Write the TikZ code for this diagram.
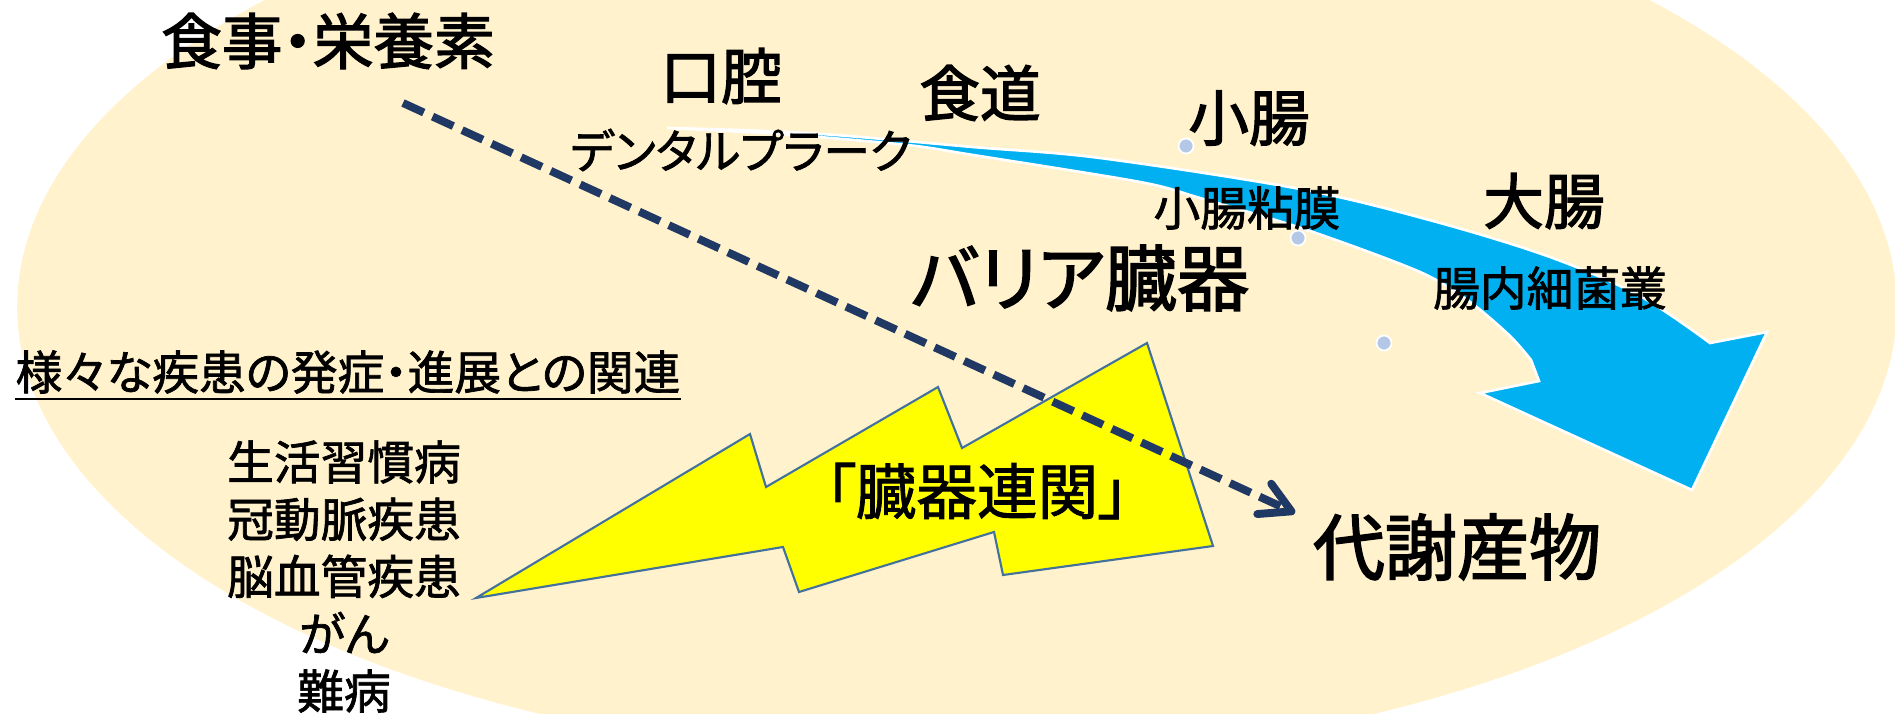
\documentclass[tikz,border=0pt]{standalone}
\usepackage{fontspec}
\setmainfont[RawFeature={+palt}]{Noto Sans CJK JP}
\newfontfamily\jpmid[RawFeature={+palt}, FakeBold=1.5]{Noto Sans CJK JP}
\newfontfamily\jpheavy[RawFeature={+palt}, FakeBold=2.2]{Noto Sans CJK JP}
\usetikzlibrary{arrows.meta}
\definecolor{beige}{HTML}{FFF2CC}
\definecolor{skyblue}{HTML}{00B0F0}
\definecolor{navy}{HTML}{203864}
\definecolor{boltline}{HTML}{41719C}
\definecolor{dotblue}{HTML}{B4C7E7}
\definecolor{boltyellow}{HTML}{FFFF00}
\tikzset{
  bigtxt/.style={font=\fontsize{34.5}{40}\selectfont\jpheavy, inner sep=0pt},
  hugetxt/.style={font=\fontsize{41}{48}\selectfont\jpheavy, inner sep=0pt},
  smalltxt/.style={font=\fontsize{26.6}{32.6}\selectfont\jpmid, inner sep=0pt},
  midtxt/.style={font=\fontsize{34.5}{40}\selectfont\jpmid, inner sep=0pt},
  listtxt/.style={font=\fontsize{26.6}{32.6}\selectfont\jpmid, inner sep=0pt, align=center},
  dotnode/.style={circle, fill=dotblue, draw=white, line width=1pt, minimum size=0.3cm, inner sep=0pt},
  bluearrow/.style={fill=skyblue, draw=white, line width=1.5pt, line join=miter},
  bolt/.style={fill=boltyellow, draw=boltline, line width=1.2pt, line join=miter},
  dasharrow/.style={draw=navy, line width=4.5pt, dash pattern=on 13pt off 5.5pt,
    -{Straight Barb[length=17pt, width=19pt, line cap=round, line join=round]}},
}
\begin{document}
\begin{tikzpicture}[x=0.02cm, y=-0.02cm]
\useasboundingbox (0,0) rectangle (1895,713);
\begin{scope}
  \clip (0,0) rectangle (1895,713);
  \fill[beige] (957,307) ellipse [x radius=18.8cm, y radius=9.08cm];
\end{scope}
% blue curved arrow
\path[bluearrow]
  plot[smooth, tension=0.55] coordinates {(667,128) (807,133) (973,147) (1100,158) (1300,189) (1433,221) (1550,257) (1640,296) (1710,343)}
  -- (1767,332) -- (1692,490) -- (1480,393) -- (1539,381)
  -- plot[smooth, tension=0.5] coordinates {(1531,360) (1510,336) (1470,302) (1420,272) (1307,230) (1200,198) (1140,182) (973,155) (907,145) (780,134) (667,128)}
  -- cycle;
% dots
\node[dotnode] (d1) at (1186,146) {};
\node[dotnode] (d2) at (1298,238) {};
\node[dotnode] (d3) at (1384,343) {};
% lightning bolt
\path[bolt] (476,598) -- (750,434) -- (766,487) -- (938,387) -- (962,448) -- (1147,343)
  -- (1213,546) -- (1003,575) -- (994,532) -- (799,592) -- (783,547) -- cycle;
% dashed arrow
\coordinate (ds) at (403,103);
\coordinate (de) at (1295,513);
\draw[dasharrow] (ds) -- (de);
% texts
\node[bigtxt] (food) at (328,41) {食事・栄養素};
\node[bigtxt] (mouth) at (721,76) {口腔};
\node[bigtxt] (esoph) at (980,93) {食道};
\node[bigtxt] (small) at (1249,118) {小腸};
\node[bigtxt] (large) at (1544,201) {大腸};
\node[smalltxt] (plaque) at (741,150) {デンタルプラーク};
\node[smalltxt] (mucosa) at (1247,208) {小腸粘膜};
\node[smalltxt] (flora) at (1550,288) {腸内細菌叢};
\node[hugetxt] (barrier) at (1080,278) {バリア臓器};
\node[hugetxt] (metab) at (1457,547) {代謝産物};
\node[midtxt] (linkage) at (977,491) {「臓器連関」};
\node[smalltxt] (rel) at (348,372) {様々な疾患の発症・進展との関連};
\draw[line width=1.3pt] ([yshift=-3pt]rel.south west) -- ([yshift=-3pt]rel.south east);
\node[listtxt, anchor=north] (list) at (344,440) {生活習慣病\\冠動脈疾患\\脳血管疾患\\がん\\難病};
\end{tikzpicture}
\end{document}
